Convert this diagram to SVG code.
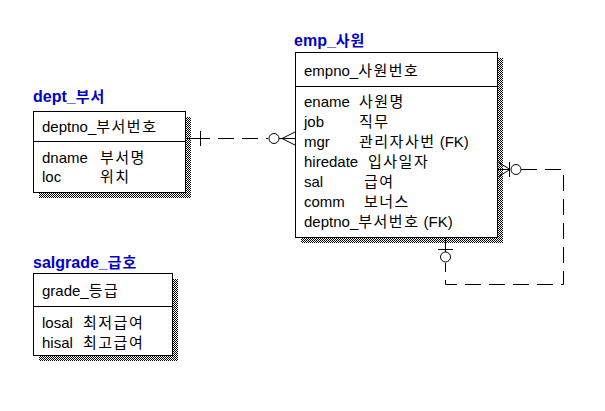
<svg xmlns="http://www.w3.org/2000/svg" width="605" height="411" viewBox="0 0 605 411">
<defs>
<pattern id="chk" width="2" height="2" patternUnits="userSpaceOnUse">
<rect width="2" height="2" fill="#fff"/>
<rect width="1" height="1" fill="#000"/>
<rect x="1" y="1" width="1" height="1" fill="#000"/>
</pattern>
<style>
.box{fill:#fff;stroke:#000;stroke-width:1}
.sh{fill:url(#chk)}
.t{font-family:"Liberation Sans",Arial,"Noto Sans CJK KR",sans-serif;font-size:15px;fill:#000}
.k{font-family:"Noto Sans CJK KR",sans-serif;font-size:15px;font-weight:normal;letter-spacing:1.5px}
.title{font-family:"Liberation Sans",Arial,"Noto Sans CJK KR",sans-serif;font-size:16px;font-weight:bold;fill:#0000cc}
.title .k{font-size:15px;font-weight:bold;letter-spacing:1px}
.ln{stroke:#000;stroke-width:1;fill:none}
.dash{stroke:#000;stroke-width:1;fill:none;stroke-dasharray:16,8}
</style>
</defs>
<rect width="605" height="411" fill="#fff"/>

<g id="dept">
<text class="title" x="33" y="102">dept_<tspan class="k">부서</tspan></text>
<rect class="sh" x="185" y="117" width="6" height="81"/>
<rect class="sh" x="39" y="192" width="152" height="6"/>
<rect class="box" x="33.5" y="111.5" width="152" height="81"/>
<line class="ln" x1="33" y1="141.5" x2="185" y2="141.5"/>
<text class="t" x="42" y="132">deptno_<tspan class="k">부서번호</tspan></text>
<text class="t" x="42" y="163">dname</text><text class="t k" x="100" y="163">부서명</text>
<text class="t" x="42" y="182">loc</text><text class="t k" x="100" y="182">위치</text>
</g>

<g id="emp">
<text class="title" x="294" y="46">emp_<tspan class="k">사원</tspan></text>
<rect class="sh" x="497" y="58" width="6" height="185"/>
<rect class="sh" x="301" y="237" width="202" height="6"/>
<rect class="box" x="295.5" y="52.5" width="202" height="185"/>
<line class="ln" x1="295" y1="86.5" x2="497" y2="86.5"/>
<text class="t" x="304" y="76">empno_<tspan class="k">사원번호</tspan></text>
<text class="t" x="304" y="107">ename</text><text class="t k" x="359" y="107">사원명</text>
<text class="t" x="304" y="127">job</text><text class="t k" x="359" y="127">직무</text>
<text class="t" x="304" y="147">mgr</text><text class="t" x="359" y="147"><tspan class="k">관리자사번</tspan> (FK)</text>
<text class="t" x="304" y="167">hiredate</text><text class="t k" x="368" y="167">입사일자</text>
<text class="t" x="304" y="187">sal</text><text class="t k" x="364" y="187">급여</text>
<text class="t" x="304" y="207">comm</text><text class="t k" x="364" y="207">보너스</text>
<text class="t" x="304" y="227">deptno_<tspan class="k">부서번호</tspan> (FK)</text>
</g>

<g id="salgrade">
<text class="title" x="33" y="268">salgrade_<tspan class="k">급호</tspan></text>
<rect class="sh" x="172" y="279" width="6" height="82"/>
<rect class="sh" x="39" y="355" width="139" height="6"/>
<rect class="box" x="33.5" y="273.5" width="139" height="82"/>
<line class="ln" x1="33" y1="306.5" x2="172" y2="306.5"/>
<text class="t" x="42" y="296">grade_<tspan class="k">등급</tspan></text>
<text class="t" x="42" y="328">losal</text><text class="t k" x="83" y="328">최저급여</text>
<text class="t" x="42" y="348">hisal</text><text class="t k" x="83" y="348">최고급여</text>
</g>

<g id="connectors">
<line class="ln" x1="186" y1="138.5" x2="210" y2="138.5"/>
<line class="ln" x1="200.5" y1="131" x2="200.5" y2="146"/>
<path class="dash" d="M218 138.5 H268"/>
<circle class="ln" cx="274" cy="138.5" r="5"/>
<path class="ln" d="M279 138.5 H295 M282 138.5 L295 132 M282 138.5 L295 145"/>

<path class="ln" d="M498 169.5 H510 M510 169.5 L498 162 M510 169.5 L498 177"/>
<line class="ln" x1="509.5" y1="162" x2="509.5" y2="177"/>
<circle class="ln" cx="516" cy="169.5" r="5"/>
<path class="dash" d="M521 169.5 H563.5 V284.5 H445.5 V263"/>
<circle class="ln" cx="445.5" cy="257" r="5"/>
<line class="ln" x1="445.5" y1="238" x2="445.5" y2="252"/>
<line class="ln" x1="438" y1="249.5" x2="453" y2="249.5"/>
</g>
</svg>
